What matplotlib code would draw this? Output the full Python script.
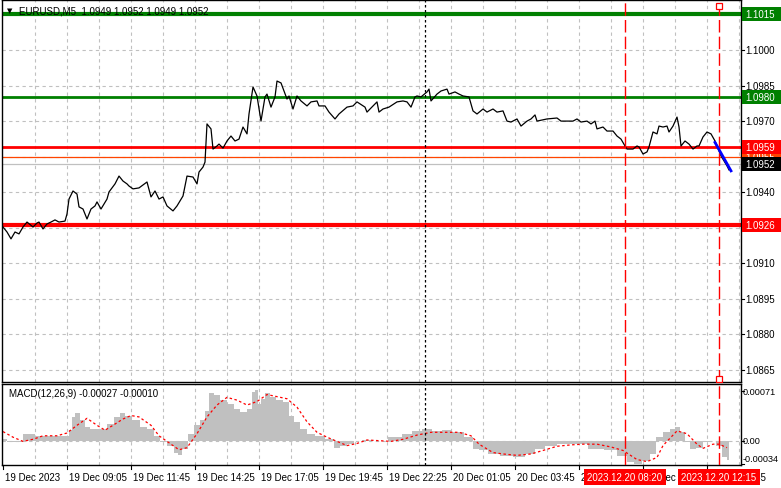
import matplotlib.pyplot as plt
from matplotlib.patches import Rectangle
from matplotlib.transforms import blended_transform_factory

# EURUSD M5, one bar = 5 minutes, bar 0 = 19 Dec 2023 06:25
price_bars = [0, 2, 4, 6, 8, 10, 12, 15, 17, 18, 20, 22, 24, 26, 28, 31, 32, 33, 35, 37,
              38, 40, 42, 44, 46, 47, 49, 52, 53, 56, 58, 60, 62, 63, 65, 68, 72, 74, 76, 78,
              80, 82, 85, 87, 90, 92, 95, 97, 98, 100, 101, 102, 104, 105, 107, 108, 110, 112, 114, 116,
              118, 120, 122, 123, 125, 127, 129, 131, 132, 134, 136, 137, 139, 142, 143, 145, 147, 149, 152, 154,
              157, 158, 161, 163, 166, 168, 172, 175, 177, 181, 182, 185, 187, 188, 190, 193, 197, 200, 202, 204,
              206, 207, 209, 212, 213, 214, 217, 219, 222, 223, 226, 228, 230, 233, 235, 237, 240, 242, 245, 247,
              250, 252, 254, 257, 259, 262, 264, 266, 267, 272, 277, 279, 285, 287, 289, 292, 294, 296, 297, 300,
              302, 305, 307, 309, 311, 312, 315, 317, 318, 320, 322, 323, 325, 327, 328, 330, 332, 333, 335, 337,
              338, 339, 341, 343, 345, 347, 348, 350, 352, 354, 356, 357, 359, 362, 363]
price_close = [1.09253, 1.09232, 1.09203, 1.09232, 1.09224, 1.09253, 1.09274, 1.09253, 1.09270, 1.09274,
               1.09245, 1.09266, 1.09274, 1.09283, 1.09274, 1.09278, 1.09308, 1.09371, 1.09405, 1.09392,
               1.09338, 1.09329, 1.09287, 1.09329, 1.09342, 1.09359, 1.09329, 1.09371, 1.09401, 1.09435,
               1.09468, 1.09447, 1.09435, 1.09426, 1.09414, 1.09418, 1.09443, 1.09380, 1.09405, 1.09371,
               1.09380, 1.09342, 1.09321, 1.09342, 1.09384, 1.09468, 1.09464, 1.09435, 1.09485, 1.09506,
               1.09527, 1.09688, 1.09667, 1.09582, 1.09595, 1.09603, 1.09586, 1.09616, 1.09637, 1.09616,
               1.09624, 1.09675, 1.09646, 1.09730, 1.09844, 1.09806, 1.09700, 1.09802, 1.09814, 1.09759,
               1.09802, 1.09869, 1.09861, 1.09793, 1.09806, 1.09751, 1.09806, 1.09785, 1.09764, 1.09781,
               1.09785, 1.09764, 1.09764, 1.09738, 1.09709, 1.09730, 1.09759, 1.09764, 1.09781, 1.09759,
               1.09738, 1.09764, 1.09781, 1.09738, 1.09751, 1.09759, 1.09781, 1.09785, 1.09781, 1.09759,
               1.09802, 1.09806, 1.09802, 1.09823, 1.09835, 1.09785, 1.09814, 1.09827, 1.09835, 1.09814,
               1.09823, 1.09814, 1.09806, 1.09802, 1.09743, 1.09730, 1.09751, 1.09738, 1.09751, 1.09738,
               1.09743, 1.09700, 1.09696, 1.09709, 1.09679, 1.09700, 1.09709, 1.09726, 1.09700, 1.09709,
               1.09713, 1.09700, 1.09700, 1.09709, 1.09696, 1.09700, 1.09688, 1.09700, 1.09667, 1.09675,
               1.09658, 1.09658, 1.09637, 1.09624, 1.09595, 1.09582, 1.09582, 1.09595, 1.09591, 1.09561,
               1.09570, 1.09591, 1.09654, 1.09646, 1.09679, 1.09675, 1.09679, 1.09654, 1.09679, 1.09717,
               1.09675, 1.09595, 1.09616, 1.09603, 1.09582, 1.09595, 1.09595, 1.09633, 1.09654, 1.09646,
               1.09616, 1.09595, 1.09553, 1.09511, 1.09494]

trend_bars = [356, 364]
trend_prices = [1.0961, 1.0949]

macd_bars = [0, 4, 8, 12, 15, 17, 24, 32, 34, 35, 37, 40, 42, 45, 50, 54, 57, 60, 62, 67,
             70, 74, 77, 80, 84, 87, 88, 91, 94, 97, 100, 102, 104, 107, 110, 114, 117, 120, 124, 125,
             127, 128, 130, 132, 135, 138, 142, 144, 147, 150, 154, 158, 164, 167, 170, 174, 177, 182, 188, 197,
             202, 207, 212, 217, 222, 227, 234, 236, 240, 245, 252, 258, 264, 268, 274, 280, 288, 297, 304, 310,
             314, 317, 322, 325, 328, 332, 335, 337, 340, 342, 345, 348, 352, 355, 358, 361, 363]
macd_hist = [0.00002, -0.00002, -0.00002, 0.0001, 0.0001, 0.00007, 0.00007, 0.00007, 0.00015, 0.00034,
             0.00039, 0.00029, 0.00019, 0.00017, 0.00017, 0.00024, 0.00034, 0.0004, 0.00036, 0.00029,
             0.00019, 0.00017, 0.00007, -0.00002, -0.00007, -0.00017, -0.0002, -0.00012, 0.0001, 0.00022,
             0.00029, 0.00043, 0.00068, 0.00065, 0.00058, 0.00053, 0.00046, 0.00041, 0.00046, 0.0007,
             0.00072, 0.00053, 0.0006, 0.00068, 0.00063, 0.00058, 0.00056, 0.00036, 0.00027, 0.00017,
             0.0001, 0.00007, 0.00002, -0.0001, -0.00007, -0.00005, 0.0, 0.00001, 0.0, 0.00005,
             0.0001, 0.00014, 0.00017, 0.00014, 0.00015, 0.00012, 0.00005, -0.00012, -0.00014, -0.00019,
             -0.00022, -0.00023, -0.00019, -0.00012, -0.00007, -0.00005, -0.00005, -0.00012, -0.00014, -0.00022,
             -0.00031, -0.00034, -0.00029, -0.00019, 0.00005, 0.00012, 0.00017, 0.0002, 0.00012, -0.00002,
             -0.00012, -0.0001, -0.00002, 0.0, -0.00007, -0.00024, -0.00027]

signal_bars = [0, 5, 10, 15, 20, 27, 32, 37, 42, 47, 51, 55, 60, 64, 68, 74, 78, 84, 88, 92,
               97, 102, 107, 112, 117, 122, 127, 132, 137, 142, 147, 152, 157, 162, 167, 172, 177, 182, 194, 200,
               207, 214, 220, 228, 234, 238, 245, 250, 257, 264, 270, 277, 284, 290, 297, 304, 310, 317, 322, 327,
               330, 334, 337, 342, 347, 350, 355, 358, 362]
signal_vals = [0.00013, 0.00005, -0.00001, 0.00002, 0.00007, 0.00007, 0.00011, 0.00022, 0.00032, 0.00022,
               0.00015, 0.00022, 0.00031, 0.00036, 0.00034, 0.00022, 0.00007, -0.00005, -0.00013, -0.0001,
               0.0001, 0.00034, 0.00051, 0.00062, 0.00058, 0.00051, 0.00056, 0.00066, 0.00063, 0.0006,
               0.00048, 0.00027, 0.00012, 0.00005, -0.00001, -0.00007, -0.00004, 0.00001, -0.00001, 0.00002,
               0.00008, 0.00012, 0.00012, 0.00012, 0.00007, -0.00005, -0.00017, -0.00019, -0.00021, -0.00019,
               -0.00014, -0.00008, -0.00006, -0.00005, -0.00005, -0.00009, -0.00014, -0.00027, -0.0003, -0.00024,
               -0.00007, 0.00005, 0.00014, 0.0001, -0.00005, -0.00011, -0.00005, -0.00005, -0.0001]

levels = [1.1015, 1.0980, 1.0959, 1.0955, 1.0926]
level_colors = ['#008000', '#008000', '#ff0000', '#ff4500', '#ff0000']
level_widths = [3.0, 2.0, 2.0, 0.9, 3.0]
bid_price = 1.0952

grid_levels = [1.1015, 1.1000, 1.0985, 1.0970, 1.0955, 1.0940, 1.0925, 1.0910, 1.0895, 1.0880, 1.0865]
price_ticks = [1.1000, 1.0985, 1.0970, 1.0955, 1.0940, 1.0925, 1.0910, 1.0895, 1.0880, 1.0865]
macd_ticks = [0.00071, 0.0, -0.00034]
macd_tick_labels = ['0.00071', '0.00', '-0.00034']

time_bars = [0, 32, 64, 96, 128, 160, 192, 224, 256, 288, 320, 352]
time_labels = ['19 Dec 2023', '19 Dec 09:05', '19 Dec 11:45', '19 Dec 14:25', '19 Dec 17:05',
               '19 Dec 19:45', '19 Dec 22:25', '20 Dec 01:05', '20 Dec 03:45', '20 Dec 06:25',
               '20 Dec 09:05', '20 Dec 11:45']
marker_bars = [311, 358]
marker_labels = ['2023.12.20 08:20', '2023.12.20 12:15']
separator_bar = 211

W, H = 781, 489
FS = 7
plt.rcParams['font.family'] = ['Liberation Sans', 'DejaVu Sans']

fig = plt.figure(figsize=(W / 100, H / 100), dpi=100)
left, right = 2, 741
ax = fig.add_axes([left / W, 1 - 383 / H, (right - left) / W, 382 / H])
ax2 = fig.add_axes([left / W, 1 - 466 / H, (right - left) / W, 81 / H])

xlim = ((left - 3) / 2, (right - 3) / 2)
for a in (ax, ax2):
    a.set_xlim(*xlim)
    a.set_xticks([])
    a.set_yticks([])
    for s in a.spines.values():
        s.set_color('black')
        s.set_linewidth(1)
    for b in range(16, 370, 16):
        a.axvline(b, color='#c0c0c0', lw=0.8, ls=(0, (3, 3)), zorder=0)
    a.axvline(separator_bar, color='black', lw=0.9, ls=(0, (2, 2)), zorder=3)
    for b in marker_bars:
        a.axvline(b, color='#ff0000', lw=1.0, ls=(0, (9, 3)), zorder=4)

# main price panel
ax.set_ylim(1.08599, 1.10211)
for g in grid_levels:
    ax.axhline(g, color='#c0c0c0', lw=0.8, ls=(0, (3, 3)), zorder=0)
ax.axhline(bid_price, color='#c0c0c0', lw=0.9, zorder=1)
for lv, c, w in zip(levels, level_colors, level_widths):
    ax.axhline(lv, color=c, lw=w, zorder=2)
ax.plot(price_bars, price_close, color='black', lw=0.9, zorder=3)
ax.plot(trend_bars, trend_prices, color='#0000ff', lw=2, zorder=5)
ax.plot([marker_bars[1]], [1.10185], marker='s', ms=4, mfc='white', mec='#ff0000', mew=0.9,
        zorder=6, clip_on=False)
ax.plot([marker_bars[1]], [1.0861], marker='s', ms=4, mfc='white', mec='#ff0000', mew=0.9,
        zorder=6, clip_on=False)

ax.text(5 / (right - left), 1 - 10 / 382, u'\u25bc', transform=ax.transAxes, fontsize=5,
        va='center', ha='left', color='black', family='DejaVu Sans')
ax.text(17 / (right - left), 1 - 10 / 382, 'EURUSD,M5  1.0949 1.0952 1.0949 1.0952',
        transform=ax.transAxes, fontsize=FS, va='center', ha='left', color='black')

# right price scale
tr = blended_transform_factory(fig.transFigure, ax.transData)
for p in price_ticks:
    ax.plot([1.0, 1.0 + 3 / (right - left)], [p, p], color='black', lw=0.8,
            transform=blended_transform_factory(ax.transAxes, ax.transData), clip_on=False)
    fig.text(745 / W, p, '%.4f' % p, transform=tr, fontsize=FS, va='center', ha='left', zorder=1)

box_items = [(1.0955, '#ff4500'), (1.1015, '#008000'), (1.0980, '#008000'),
             (1.0959, '#ff0000'), (bid_price, 'black'), (1.0926, '#ff0000')]
half = 7 / 2.37 * 0.0001
for i, (p, bg) in enumerate(box_items):
    z = 2 + 2 * i
    fig.add_artist(Rectangle((742 / W, p - half), 39 / W, 2 * half, transform=tr,
                             fc=bg, ec='none', zorder=z))
    fig.text(745 / W, p, '%.4f' % p, transform=tr, fontsize=FS, va='center', ha='left',
             color='white', zorder=z + 1)

# MACD panel
ax2.set_ylim(-0.000348, 0.000811)
ax2.axhline(0, color='#c0c0c0', lw=0.8, ls=(0, (3, 3)), zorder=0)
ax2.fill_between(macd_bars, 0, macd_hist, step='mid', color='#c0c0c0', lw=0, zorder=1)
ax2.plot(signal_bars, signal_vals, color='#ff0000', lw=0.9, ls=(0, (2, 2)), zorder=2)
ax2.text(7 / (right - left), 1 - 9 / 81, 'MACD(12,26,9) -0.00027 -0.00010',
         transform=ax2.transAxes, fontsize=FS, va='center', ha='left')
tr2 = blended_transform_factory(fig.transFigure, ax2.transData)
for v, lab in zip(macd_ticks, macd_tick_labels):
    ax2.plot([1.0, 1.0 + 3 / (right - left)], [v, v], color='black', lw=0.8,
             transform=blended_transform_factory(ax2.transAxes, ax2.transData), clip_on=False)
    yv = v if v > -0.0003 else -0.00025
    fig.text(743 / W, yv, lab, transform=tr2, fontsize=6.6, va='center', ha='left')

# time scale
trx = blended_transform_factory(ax2.transData, fig.transFigure)
for b, lab in zip(time_bars, time_labels):
    ax2.plot([b, b], [1 - 466 / H, 1 - 470 / H], color='black', lw=0.8, transform=trx, clip_on=False)
    fig.text(b + 0.8, 1 - 478 / H, lab, transform=trx, fontsize=FS, va='center', ha='left')
for b, lab in zip(marker_bars, marker_labels):
    fig.text(b, 1 - 478 / H, lab, transform=trx, fontsize=FS, va='center', ha='center', color='white',
             bbox=dict(boxstyle='square,pad=0.35', fc='#ff0000', ec='none'), zorder=10)

fig.savefig('out.png', dpi=100, facecolor='white')
